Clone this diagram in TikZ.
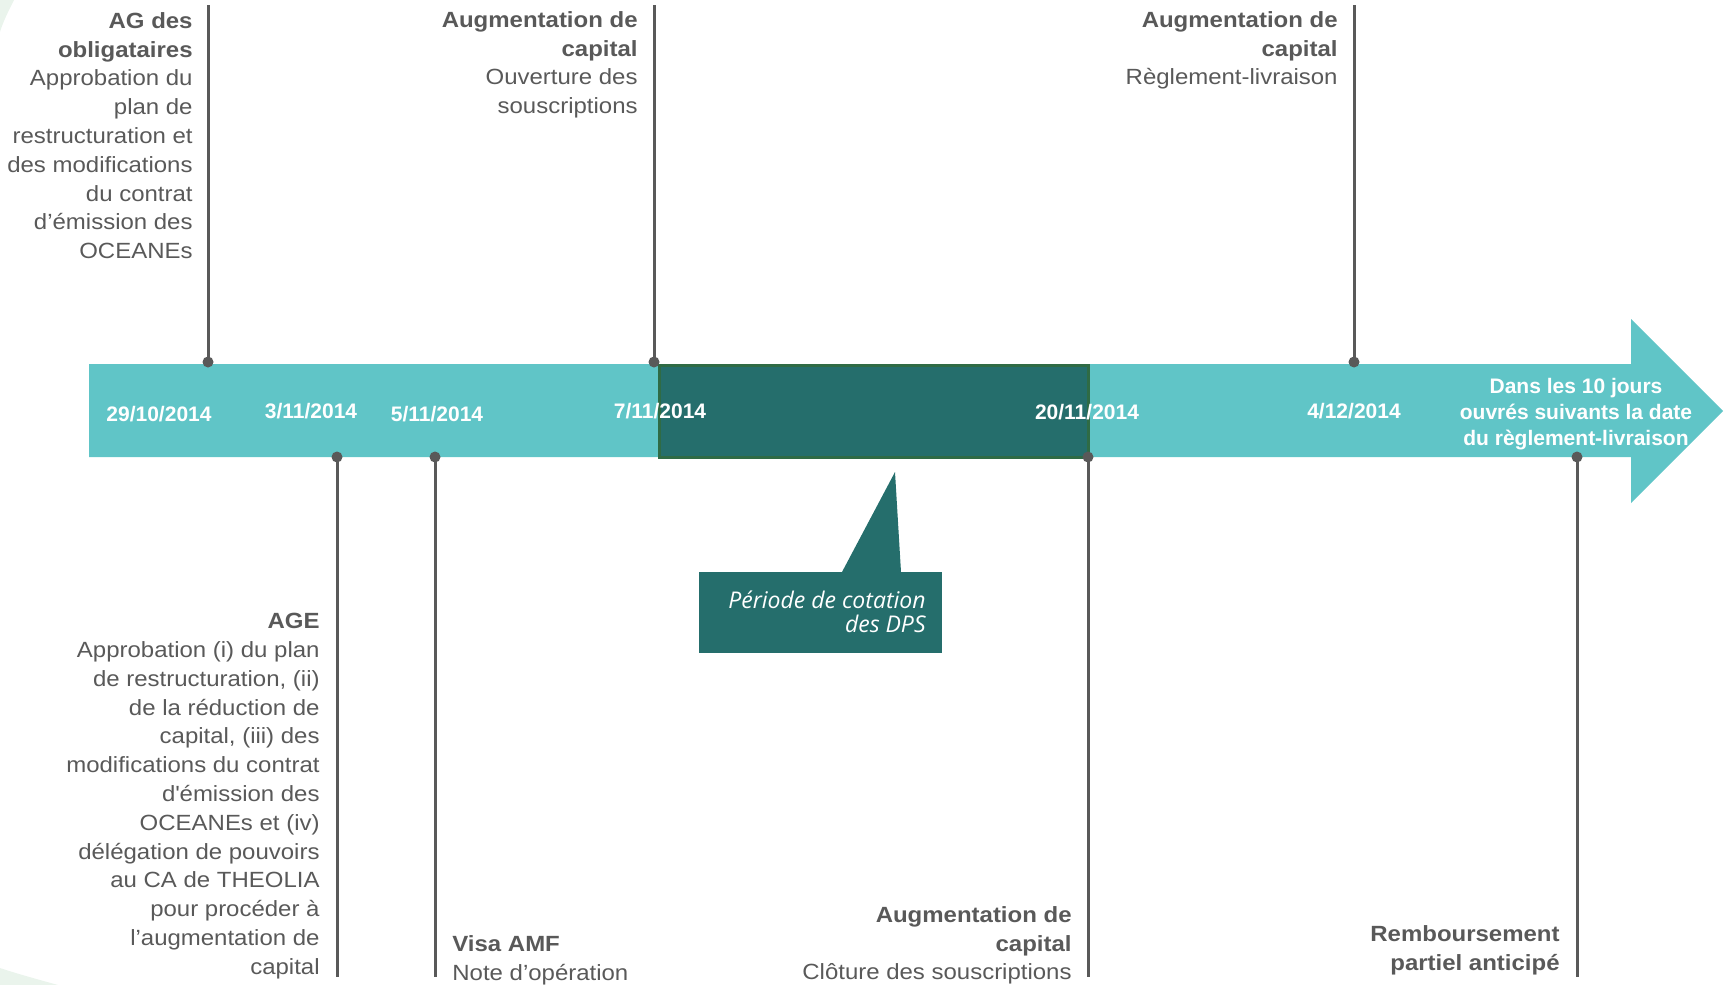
\documentclass[tikz,border=0pt]{standalone}
\usepackage{fontspec}
\setmainfont{Liberation Sans}
\newfontfamily\evtfont{Liberation Sans}[FakeStretch=1.09]
\newfontfamily\calloutfont{Open Sans}
\usepackage{tikz}

\definecolor{barcyan}{HTML}{60C5C7}
\definecolor{darkteal}{HTML}{256E6C}
\definecolor{edgegreen}{HTML}{2F6B45}
\definecolor{stemgray}{HTML}{595959}
\definecolor{palegreen}{HTML}{EAF4EC}

\begin{document}
\begin{tikzpicture}[x=0.5pt,y=-0.5pt,
  stem/.style={line width=1.5pt, stemgray},
  dot/.style={circle, fill=stemgray, inner sep=0pt, minimum size=5.5pt},
  datelbl/.style={text=white, font=\bfseries\fontsize{10.5}{13}\selectfont, inner sep=0pt, anchor=base},
  evtR/.style={text=stemgray, font=\evtfont\fontsize{11}{14.4}\selectfont, inner sep=0pt, align=right, anchor=north east},
  evtL/.style={text=stemgray, font=\evtfont\fontsize{11}{14.4}\selectfont, inner sep=0pt, align=left, anchor=north west}]
\useasboundingbox (0,0) rectangle (1731,985);

% Background corners
\fill[palegreen] (0,0) -- (14,0) .. controls (8,12) and (3,22) .. (0,32) -- cycle;
\fill[palegreen] (0,968) .. controls (18,974) and (40,980) .. (58,985) -- (0,985) -- cycle;

% Timeline arrow
\fill[barcyan] (89,364) -- (1631,364) -- (1631,319) -- (1723,411) -- (1631,503)
  -- (1631,457) -- (89,457) -- cycle;

% DPS period
\draw[line width=1.5pt, edgegreen, fill=darkteal] (659,365) rectangle (1088,457);

% Dates
\node[datelbl] (d1) at (159,421) {29/10/2014};
\node[datelbl] (d2) at (311,418.5) {3/11/2014};
\node[datelbl] (d3) at (437,421) {5/11/2014};
\node[datelbl] (d4) at (660,418.5) {7/11/2014};
\node[datelbl] (d5) at (1087,419) {20/11/2014};
\node[datelbl] (d6) at (1354,418.5) {4/12/2014};
\node[datelbl, anchor=north, align=center] (d7) at (1576,377.5)
  {Dans les 10 jours\\ouvrés suivants la date\\du règlement-livraison};

% Stems above
\node[dot] (agobl) at (208,362) {};
\node[dot] (augopen) at (654,362) {};
\node[dot] (augrl) at (1354,362) {};
\coordinate (agoblTop) at (208,5);
\coordinate (augopenTop) at (654,5);
\coordinate (augrlTop) at (1354,5);
\draw[stem] (agoblTop) -- (agobl.center);
\draw[stem] (augopenTop) -- (augopen.center);
\draw[stem] (augrlTop) -- (augrl.center);

% Stems below
\node[dot] (age) at (337,457) {};
\node[dot] (visa) at (435,457) {};
\node[dot] (augclose) at (1088,457) {};
\node[dot] (remb) at (1577,457) {};
\coordinate (ageEnd) at (337,977);
\coordinate (visaEnd) at (435,977);
\coordinate (augcloseEnd) at (1088,977);
\coordinate (rembEnd) at (1577,977);
\draw[stem] (age.center) -- (ageEnd);
\draw[stem] (visa.center) -- (visaEnd);
\draw[stem] (augclose.center) -- (augcloseEnd);
\draw[stem] (remb.center) -- (rembEnd);

% Events above
\node[evtR] (agoblTxt) at (193,12)
  {\textbf{AG des}\\\textbf{obligataires}\\Approbation du\\plan de\\restructuration et\\des modifications\\du contrat\\d’émission des\\OCEANEs};
\node[evtR] (augopenTxt) at (638,11)
  {\textbf{Augmentation de}\\\textbf{capital}\\Ouverture des\\souscriptions};
\node[evtR] (augrlTxt) at (1338,11)
  {\textbf{Augmentation de}\\\textbf{capital}\\Règlement-livraison};

% Events below
\node[evtR] (ageTxt) at (320,613)
  {\textbf{AGE}\\Approbation (i) du plan\\de restructuration, (ii)\\de la réduction de\\capital, (iii) des\\modifications du contrat\\d\textquotesingle émission des\\OCEANEs et (iv)\\délégation de pouvoirs\\au CA de THEOLIA\\pour procéder à\\l’augmentation de\\capital};
\node[evtL] (visaTxt) at (452,935)
  {\textbf{Visa AMF}\\Note d’opération};
\node[evtR] (augcloseTxt) at (1072,906)
  {\textbf{Augmentation de}\\\textbf{capital}\\Clôture des souscriptions};
\node[evtR] (rembTxt) at (1560,925)
  {\textbf{Remboursement}\\\textbf{partiel anticipé}};

% Callout
\fill[darkteal] (699,572) rectangle (942,653);
\fill[darkteal] (842,572) -- (895,472) -- (901,572) -- cycle;
\node[text=white, font=\calloutfont\itshape\fontsize{11.5}{12.25}\selectfont, inner sep=0pt,
  align=right, anchor=north east] (dps) at (926,590) {Période de cotation\\des DPS};
\end{tikzpicture}
\end{document}
